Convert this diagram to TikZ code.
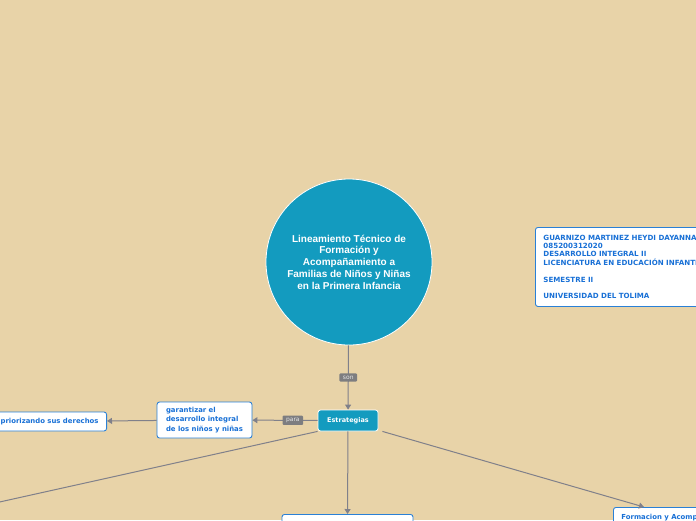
\documentclass[tikz,border=0pt]{standalone}
\usepackage{fontspec}
\setmainfont{DejaVu Sans}
\newfontfamily\arialfont{Liberation Sans}
\usetikzlibrary{arrows.meta}

\definecolor{fondo}{RGB}{232,211,168}
\definecolor{azulcentro}{RGB}{19,155,191}
\definecolor{bordeazul}{RGB}{42,128,214}
\definecolor{textoazul}{RGB}{24,112,214}
\definecolor{linea}{RGB}{128,128,138}
\definecolor{etiqueta}{RGB}{125,125,128}

\tikzset{
    idea/.style={rectangle, rounded corners=2.5pt, draw=bordeazul, line width=0.9pt, fill=white,
        text=textoazul, font=\fontsize{6.9}{9.8}\selectfont\bfseries, align=left,
        inner xsep=8pt, inner ysep=4pt},
    conector/.style={draw=linea, line width=1pt, -{Triangle[width=6pt,length=5pt]}},
    rotulo/.style={fill=etiqueta, text=white!80!gray, font=\fontsize{6}{7}\selectfont,
        inner xsep=3.5pt, inner ysep=2.3pt, rounded corners=1pt},
}

\begin{document}
\begin{tikzpicture}[x=1pt, y=-1pt]
    \useasboundingbox (0,0) rectangle (696,520);
    \clip (0,0) rectangle (696,520);
    \fill[fondo] (0,0) rectangle (696,520);

    % tema central
    \node[circle, fill=azulcentro, draw=white, line width=0.8pt, minimum size=166pt, text=white,
        align=center, font=\arialfont\bfseries\fontsize{10}{11.8}\selectfont] (centro) at (349,262)
        {Lineamiento Técnico de\\Formación y\\ Acompañamiento a\\Familias de Niños y Niñas\\ en la Primera Infancia};

    \node[rectangle, rounded corners=2.5pt, fill=azulcentro, draw=white, line width=0.8pt, text=white,
        font=\fontsize{6.5}{8}\selectfont\bfseries, minimum width=60pt, minimum height=21pt]
        (estrategias) at (348,420.5) {Estrategias};

    \node[idea, minimum width=93pt, minimum height=36pt, inner xsep=9pt] (garantizar) at (204.5,420)
        {garantizar el\\desarrollo integral\\de los niños y niñas};
    \node[idea, anchor=east, minimum height=19pt] (priorizando) at (107,421.5) {priorizando sus derechos};

    \node[idea, anchor=north west, font=\fontsize{7.1}{8.4}\selectfont\bfseries, minimum height=79pt]
        (datos) at (535,227)
        {GUARNIZO MARTINEZ HEYDI DAYANNA\\085200312020\\DESARROLLO INTEGRAL II\\LICENCIATURA EN EDUCACIÓN INFANTIL\\[8.4pt]SEMESTRE II\\[8.4pt]UNIVERSIDAD DEL TOLIMA};

    \node[idea, anchor=north, minimum width=131pt, minimum height=20pt] (centroabajo) at (347.5,514) {};
    \node[idea, anchor=north west, minimum height=20pt] (formacion) at (613,507) {Formacion y Acompañamiento};

    \coordinate (izq) at (-50,513);

    % conectores
    \draw[conector] (centro) -- node[rotulo] {son} (estrategias);
    \draw[conector] (estrategias) -- node[rotulo, pos=0.38] {para} (garantizar);
    \draw[conector] (garantizar) -- (priorizando);
    \draw[draw=linea, line width=1pt] (estrategias.south west) -- (izq);
    \draw[conector] (estrategias) -- (centroabajo);
    \draw[conector] ([xshift=4pt]estrategias.south east) -- ([xshift=31pt]formacion.north west);
\end{tikzpicture}
\end{document}
